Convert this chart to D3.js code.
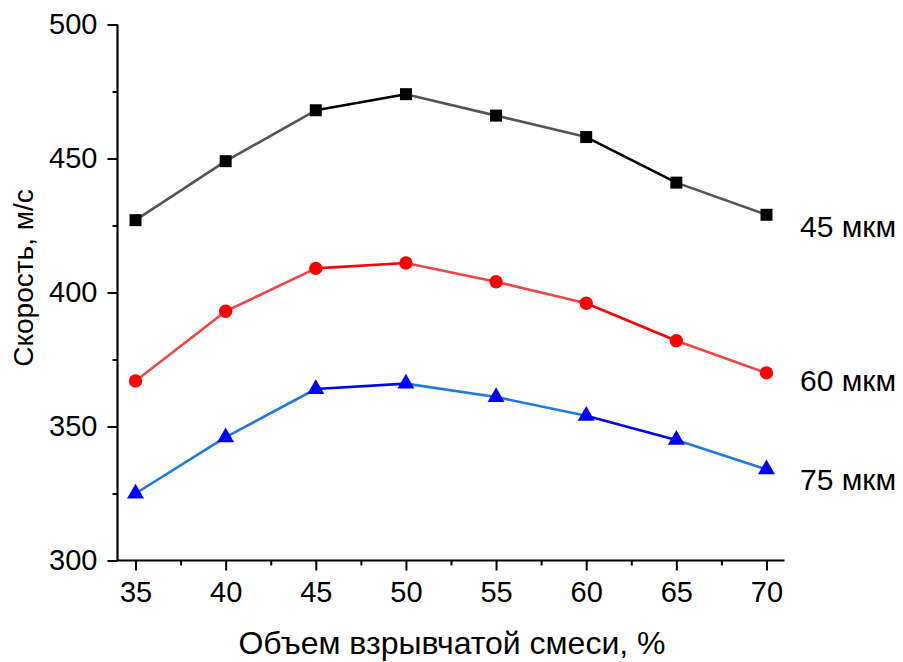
<!DOCTYPE html>
<html>
<head>
<meta charset="utf-8">
<script src="https://cdn.jsdelivr.net/npm/d3@7"></script>
<style>
  html, body { margin: 0; padding: 0; background: #fff; }
  svg { display: block; }
  text { font-family: "Liberation Sans", Arial, sans-serif; fill: #000; }
</style>
</head>
<body>
<svg id="chart" width="903" height="662"></svg>
<script>
// Объем взрывчатой смеси, %
const volume = [35, 40, 45, 50, 55, 60, 65, 70];

// Скорость, м/с for each particle size
const speed45 = [427, 449, 468, 474, 466, 458, 441, 429];
const speed60 = [367, 393, 409, 411, 404, 396, 382, 370];
const speed75 = [325, 346, 364, 366, 361, 354, 345, 334];

const seriesNames = ["45 мкм", "60 мкм", "75 мкм"];

const xTicks = [35, 40, 45, 50, 55, 60, 65, 70];
const yTicks = [300, 350, 400, 450, 500];

// which segments are drawn in the saturated shade (others in the softer shade)
const strongSegment = [false, false, true, false, false, true, false];

const svg = d3.select("#chart");
const FONT = '"Liberation Sans", Arial, sans-serif';

const x = d3.scaleLinear().domain([34, 71]).range([117.5, 784.5]);
const y = d3.scaleLinear().domain([300, 500]).range([560.5, 24.5]);

const series = [
  { name: seriesNames[0], values: speed45, marker: "square",
    strong: "#000000", soft: "#555555", fill: "#000000", baseline: 237 },
  { name: seriesNames[1], values: speed60, marker: "circle",
    strong: "#ff0000", soft: "#f04646", fill: "#ff0000", baseline: 391 },
  { name: seriesNames[2], values: speed75, marker: "triangle",
    strong: "#0000ff", soft: "#1f7ae0", fill: "#0000ff", baseline: 490 }
];

// Axes
const xMinor = d3.range(37.5, 71, 5);
const yMinor = d3.range(325, 500, 50);

const gx = svg.append("g").attr("transform", `translate(0,${y(300)})`);
gx.call(d3.axisBottom(x).tickValues(xTicks).tickSize(10).tickPadding(11).tickFormat(d3.format("d")));
gx.append("g").call(d3.axisBottom(x).tickValues(xMinor).tickSize(5).tickFormat(""))
  .select(".domain").remove();

const gy = svg.append("g").attr("transform", `translate(${x(34)},0)`);
gy.call(d3.axisLeft(y).tickValues(yTicks).tickSize(10).tickPadding(10).tickFormat(d3.format("d")));
gy.append("g").call(d3.axisLeft(y).tickValues(yMinor).tickSize(5).tickFormat(""))
  .select(".domain").remove();

// Plain axis lines without end caps
gx.select(".domain").attr("d", `M${x(34)},0H${x(71)}`);
gy.select(".domain").attr("d", `M0,${y(300)}V${y(500)}`);
svg.selectAll(".domain").attr("stroke", "#000").attr("stroke-width", 2.2);
svg.selectAll(".tick line").attr("stroke", "#000").attr("stroke-width", 2);
svg.selectAll(".tick text").attr("font-size", 29).attr("font-family", FONT).attr("fill", "#000");

// Axis titles
svg.append("text")
  .attr("x", 452)
  .attr("y", 654)
  .attr("text-anchor", "middle")
  .attr("font-size", 32)
  .text("Объем взрывчатой смеси, %");

svg.append("text")
  .attr("transform", `translate(33,278) rotate(-90)`)
  .attr("text-anchor", "middle")
  .attr("font-size", 28)
  .text("Скорость, м/с");

// Lines, segment by segment
const plot = svg.append("g");
series.forEach(s => {
  const pts = volume.map((v, i) => [x(v), y(s.values[i])]);
  for (let i = 0; i < pts.length - 1; i++) {
    plot.append("line")
      .attr("x1", pts[i][0]).attr("y1", pts[i][1])
      .attr("x2", pts[i + 1][0]).attr("y2", pts[i + 1][1])
      .attr("stroke", strongSegment[i] ? s.strong : s.soft)
      .attr("stroke-width", 2.6);
  }
});

// Markers
const symbolType = { square: d3.symbolSquare, circle: d3.symbolCircle, triangle: d3.symbolTriangle };
const symbolSize = { square: 144, circle: 140, triangle: 125 };
series.forEach(s => {
  plot.selectAll(null)
    .data(volume.map((v, i) => ({ v, val: s.values[i] })))
    .join("path")
    .attr("transform", d => `translate(${x(d.v)},${y(d.val)})`)
    .attr("d", d3.symbol().type(symbolType[s.marker]).size(symbolSize[s.marker]))
    .attr("fill", s.fill);
});

// Series labels
series.forEach(s => {
  svg.append("text")
    .attr("x", 800)
    .attr("y", s.baseline)
    .attr("font-size", 30)
    .text(s.name);
});
</script>
</body>
</html>
